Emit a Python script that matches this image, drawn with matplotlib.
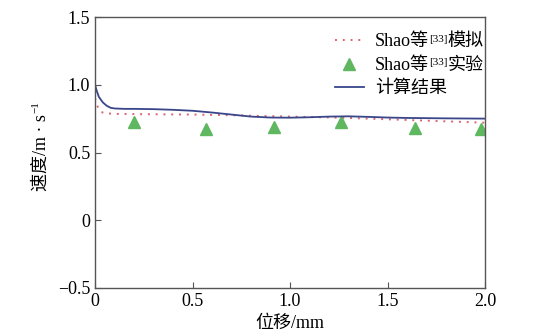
import matplotlib
matplotlib.use("Agg")
import matplotlib.pyplot as plt
import numpy as np

# data
calc_x = [0.0, 0.01, 0.02, 0.04, 0.06, 0.08, 0.10, 0.15, 0.2, 0.3, 0.4, 0.5, 0.6, 0.7, 0.8, 0.9, 1.0, 1.1, 1.2, 1.3, 1.4, 1.5, 1.6, 1.8, 2.0]
calc_y = [1.0, 0.95, 0.91, 0.87, 0.845, 0.83, 0.825, 0.822, 0.822, 0.82, 0.815, 0.808, 0.795, 0.78, 0.765, 0.758, 0.757, 0.76, 0.765, 0.767, 0.763, 0.758, 0.755, 0.752, 0.75]
sim_x = [0.0, 0.01, 0.02, 0.03, 0.05, 0.1, 0.3, 0.5, 0.7, 0.9, 1.1, 1.3, 1.5, 1.7, 2.0]
sim_y = [0.90, 0.85, 0.82, 0.80, 0.79, 0.785, 0.782, 0.78, 0.775, 0.768, 0.762, 0.755, 0.745, 0.735, 0.72]
exp_x = [0.2, 0.57, 0.92, 1.26, 1.64, 1.98]
exp_y = [0.725, 0.675, 0.685, 0.725, 0.68, 0.675]
xticks = [0, 0.5, 1.0, 1.5, 2.0]
xticklabels = ["0", "0.5", "1.0", "1.5", "2.0"]
yticks = [-0.5, 0, 0.5, 1.0, 1.5]
yticklabels = ["\u22120.5", "0", "0.5", "1.0", "1.5"]
legend_parts = [("Shao等", "[33]", "模拟"), ("Shao等", "[33]", "实验"), ("计算结果", "", "")]

FAM = ['Liberation Serif', 'Noto Sans CJK SC']
plt.rcParams['font.family'] = FAM

fig = plt.figure(figsize=(5.45, 3.36), dpi=100)
ax = fig.add_axes([95/545, 48/336, 390/545, 271/336])

ax.plot(sim_x, sim_y, linestyle=(0, (1, 3)), color='#d9646e', lw=1.4, label=legend_parts[0][0])
ax.plot(exp_x, exp_y, linestyle='none', marker='^', ms=8.5, color='#5fb760', label=legend_parts[1][0])
ax.plot(calc_x, calc_y, color='#39468a', lw=1.3, label=legend_parts[2][0])

ax.set_xlim(0, 2.0)
ax.set_ylim(-0.5, 1.5)
ax.set_xticks(xticks)
ax.set_xticklabels(xticklabels)
ax.set_yticks(yticks)
ax.set_yticklabels(yticklabels)
ax.tick_params(direction='in', labelsize=13, length=4, color='#555555')
for s in ax.spines.values():
    s.set_color('#555555')
    s.set_linewidth(1.0)

ax.set_xlabel('位移/mm', fontsize=13, labelpad=4)
ylab = ax.set_ylabel('速度/m · s', fontsize=13, labelpad=6)

leg = ax.legend(loc='upper left', frameon=False, fontsize=13, handlelength=1.6,
                handletextpad=0.6, labelspacing=0.36, borderaxespad=0.0,
                bbox_to_anchor=(0.597, 0.966))
for txt, (base, sup, suffix) in zip(leg.get_texts(), legend_parts):
    if sup:
        s = ax.annotate(sup, xy=(1, 1), xycoords=txt, xytext=(0.0, -1.0), textcoords='offset points',
                        ha='left', va='top', fontsize=8, family=FAM, zorder=10)
        ax.annotate(suffix, xy=(1, 0), xycoords=(s, txt), xytext=(0.3, 0), textcoords='offset points',
                    ha='left', va='bottom', fontsize=13, family=FAM, zorder=11)

# superscript on y label
ax.annotate('\u22121', xy=(0, 1), xycoords=ylab, xytext=(-1, 1), textcoords='offset points',
            ha='left', va='bottom', rotation=90, fontsize=8, family=FAM)

fig.savefig('out.png', dpi=100)
